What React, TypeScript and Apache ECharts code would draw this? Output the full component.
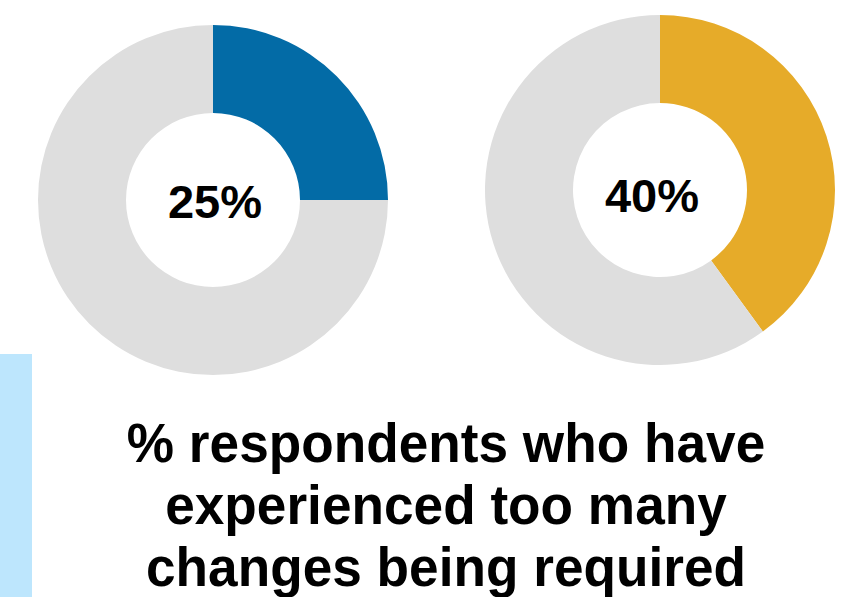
import React, { useEffect, useRef } from "react";
import * as echarts from "echarts";

const donutNames = ["Left", "Right"];
const highlightValues = [25, 40];
const restValues = [75, 60];
const centerLabels = ["25%", "40%"];
const titleLines = [
  "% respondents who have",
  "experienced too many",
  "changes being required",
];

export default function App() {
  const ref = useRef<HTMLDivElement>(null);
  useEffect(() => {
    const chart = echarts.init(ref.current!, null, { renderer: "svg" });
    const colors = ["#036ba6", "#e6ab29"];
    const centers = [
      [213, 200],
      [660, 190],
    ];
    const labelPos = [
      [215, 201],
      [652, 195],
    ];
    const series = donutNames.map((n, i) => ({
      type: "pie",
      name: n,
      center: centers[i],
      radius: [87, 175],
      startAngle: 90,
      clockwise: true,
      silent: true,
      label: { show: false },
      labelLine: { show: false },
      itemStyle: { borderWidth: 0 },
      data: [
        { value: highlightValues[i], itemStyle: { color: colors[i] } },
        { value: restValues[i], itemStyle: { color: "#dedede" } },
      ],
    }));
    const lineY = [443, 505, 567];
    chart.setOption({
      animation: false,
      series,
      graphic: [
        {
          type: "rect",
          shape: { x: 0, y: 354, width: 32, height: 260 },
          style: { fill: "#bde6fd" },
        },
        ...centerLabels.map((t, i) => ({
          type: "text",
          x: labelPos[i][0],
          y: labelPos[i][1],
          style: {
            text: t,
            fill: "#000",
            font: "bold 47px 'Liberation Sans', Arial, sans-serif",
            align: "center",
            verticalAlign: "middle",
          },
        })),
        ...titleLines.map((t, i) => ({
          type: "text",
          x: 446,
          y: lineY[i],
          scaleX: 0.95,
          style: {
            text: t,
            fill: "#000",
            font: "bold 56px 'Liberation Sans', Arial, sans-serif",
            align: "center",
            verticalAlign: "middle",
          },
        })),
      ],
    });
    return () => chart.dispose();
  }, []);
  return (
    <div
      ref={ref}
      style={{ position: "absolute", left: 0, top: 0, width: 845, height: 597 }}
    />
  );
}
